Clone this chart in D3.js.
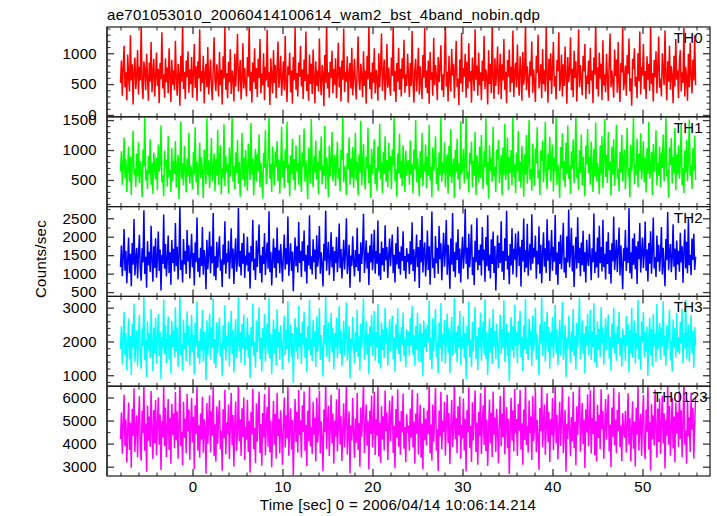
<!DOCTYPE html>
<html><head><meta charset="utf-8">
<script src="https://cdn.jsdelivr.net/npm/d3@7"></script>
<style>
body{margin:0;background:#fff}
svg{display:block}
text{font-family:"Liberation Sans",Arial,Helvetica,sans-serif;fill:#000}
</style>
</head><body><svg id="c" width="717" height="516"></svg>
<script>
const chartTitle = "ae701053010_20060414100614_wam2_bst_4band_nobin.qdp";
const xLabel = "Time [sec] 0 = 2006/04/14 10:06:14.214";
const yLabel = "Counts/sec";
const tStart = -8, tStep = 0.1;
const xTickLabels = [0, 10, 20, 30, 40, 50];
const xMinorStep = 2;
const xDomain = [-9.5, 57.5];
const panelNames = ["TH0", "TH1", "TH2", "TH3", "TH0123"];
const panelColors = ["#ff0000", "#00ff00", "#0000ff", "#00ffff", "#ff00ff"];
const yDomains = [[-30, 1425], [55, 1555], [383, 2816], [675, 3334], [2597, 6489]];
const yTickLabels = [[0, 500, 1000], [500, 1000, 1500], [500, 1000, 1500, 2000, 2500], [1000, 2000, 3000], [3000, 4000, 5000, 6000]];
const yMinorSteps = [100, 100, 250, 200, 500];

const th0 = [
520,880,310,760,1120,450,690,240,980,610,380,1290,560,820,170,700,930,420,640,1050,
330,780,560,1460,490,260,870,720,400,990,610,230,850,540,1180,370,680,910,300,620,
1010,470,750,190,840,580,1340,430,660,280,920,530,770,350,1080,640,210,890,490,720,
400,1200,580,310,830,670,150,960,540,1470,420,700,260,880,610,1030,360,740,500,940,
280,650,1150,440,790,230,870,590,1390,380,710,520,960,190,680,830,450,1100,330,610,
900,470,240,760,1260,550,390,820,640,300,1020,480,730,170,950,590,1440,410,680,270,
860,530,1070,340,720,610,220,990,460,800,1310,380,640,890,250,570,1160,430,760,510,
300,940,620,1500,390,700,200,850,530,1080,420,760,290,910,600,1230,350,670,480,1000,
240,780,560,1380,450,690,160,920,610,350,1050,520,810,270,730,1190,440,640,960,310,
580,870,400,1280,530,210,790,650,1010,370,720,180,940,560,1420,410,680,300,850,620,
1120,460,740,260,900,550,1350,390,660,230,980,500,830,340,1060,610,190,870,470,720,
380,1240,590,320,810,680,140,970,520,1480,430,690,280,860,600,1040,350,750,490,920,
270,640,1170,450,780,220,880,570,1400,370,700,540,950,200,670,840,430,1090,320,600,
910,480,250,770,1270,540,400,830,630,290,1030,470,720,180,960,580,1450,420,690,260,
850,520,1080,350,730,600,230,1000,450,790,1320,390,650,900,240,560,1150,440,770,500,
310,930,630,1490,380,710,210,840,540,1090,410,750,300,920,590,1220,360,660,470,990,
610,290,840,470,1360,560,200,730,910,380,650,1090,330,790,520,260,970,600,1410,440,
720,350,880,180,1020,570,690,310,1250,480,810,620,240,940,530,770,1130,400,660,290,
850,1480,460,700,220,960,580,380,1070,640,820,270,720,1200,450,590,160,900,510,1330,
370,760,620,990,280,860,430,1160,540,710,200,930,650,390,1390,570,800,310,1010,480,
690,240,880,550,1280,420,740,610,170,1050,500,830,350,1450,600,260,920,470,710,1110,
330,640,990,260,820,560,1230,410,700,190,890,620,1060,370,780,520,1370,290,680,850,
450,1140,580,310,950,720,230,1020,490,660,1500,400,790,570,280,870,630,1190,360,740,
540,210,960,680,1300,430,590,820,270,1070,500,730,380,1420,640,200,910,560,1000,340,
770,1180,460,630,250,890,710,1340,390,560,980,300,820,470,1110,620,180,940,530,690,
1260,400,750,290,1040,600,870,220,680,1390,450,810,580,320,960,710,1150,260,640,500,
880,340,1090,560,720,190,930,650,1470,420,770,300,1010,590,830,240,1210,480,660,370,
990,610,230,870,1320,450,720,540,280,1060,630,900,360,1180,510,210,840,690,1430,400,
560,800,310,970,670,1240,380,590,150,910,740,1080,460,620,270,1000,550,1350,330,780,
640,1150,420,710,260,950,570,830,390,1460,500,680,220,890,610,1030,350,760,1270,440,
590,300,1000,720,480,1370,620,240,870,540,1120,410,790,650,190,960,460,1230,570,720,
270,860,1050,380,690,520,1410,300,780,610,230,990,450,1170,640,350,900,560,1290,480];

const th1 = [
640,980,420,760,1210,530,850,300,710,1060,470,890,250,780,1320,590,690,380,940,560,
1130,450,820,620,210,1010,730,1560,490,670,350,900,600,1180,420,790,270,960,680,510,
870,330,1090,640,760,1410,460,580,230,990,710,840,390,1240,550,660,300,1030,480,810,
600,1150,370,720,920,180,650,1480,520,780,410,1070,690,290,860,560,1290,440,740,620,
340,970,590,1380,460,810,250,700,1120,530,880,620,200,1010,750,430,1530,580,830,360,
710,1200,480,650,940,310,850,570,1340,420,770,1080,260,690,540,1430,400,900,630,760,
280,1040,560,820,1590,470,730,350,960,610,1170,440,800,220,680,1290,510,870,390,1000,
650,320,1110,740,500,1450,590,860,240,720,1020,470,930,640,1260,380,790,560,190,950,
700,1330,430,610,880,1560,520,770,300,1060,660,410,980,720,1150,480,840,270,710,1390,
540,820,360,1010,690,1470,450,760,230,910,600,1190,500,850,330,1080,640,780,420,1250,
610,300,960,720,1360,470,830,580,180,1040,690,440,1520,750,380,900,620,1160,510,800,
260,990,660,1230,430,740,570,1400,350,880,700,210,1070,560,820,1300,480,630,920,400,
770,1140,520,690,310,1000,840,1580,460,730,600,250,950,680,1210,420,860,540,1050,370,
720,1290,490,810,240,930,620,1490,410,770,1100,560,340,890,690,1370,450,760,200,1020,
590,850,1180,430,700,320,1060,640,1440,510,790,280,970,600,1230,470,830,380,1120,660,
900,350,1010,740,1550,480,680,220,940,610,1270,530,820,400,1080,710,300,990,570,760,
830,420,1160,590,760,280,1010,680,1500,460,870,620,230,980,540,1290,400,760,640,1090,
360,890,570,1420,490,720,210,1040,650,810,1230,430,700,320,960,580,1560,470,800,610,
1130,380,740,930,270,1070,560,1350,450,690,860,200,1000,630,1190,510,780,340,1480,590,
700,1020,440,860,1610,520,640,290,950,760,1140,380,820,570,1300,250,910,680,460,1060,
530,1250,610,350,980,720,1530,420,800,190,1080,650,870,470,1390,560,720,300,1010,840,
1170,450,690,920,240,1040,580,1440,500,730,1210,330,880,620,1000,410,1580,550,760,280,
960,640,1320,480,810,370,1070,700,220,930,590,1250,440,790,1500,510,680,320,1110,620,
400,1030,770,1380,530,660,250,990,820,1160,460,730,1470,590,350,940,670,1220,480,850,
1090,310,870,640,1540,420,760,560,200,1050,700,1280,490,820,380,1120,600,1410,520,740,
270,980,690,1180,450,860,1590,530,710,330,1000,620,1260,410,890,580,230,1070,760,1350,
610,880,420,1140,720,300,1020,560,1460,480,790,650,260,1080,590,1230,370,840,1520,550,
920,450,1300,660,810,240,1060,590,1180,400,750,1420,520,690,310,970,630,1250,470,860,
1010,340,780,1370,560,700,210,1090,640,880,1550,430,760,590,1190,380,940,660,1280,510,
720,1150,460,870,290,1030,600,1470,520,680,970,250,1100,630,840,1330,410,780,570,1060,
380,960,700,1260,480,820,1580,560,670,200,1040,750,1200,440,890,610,1370,330,930,590,
1080,520,790,1450,410,700,280,990,620,1170,480,860,1510,570,740,350,1030,660,1240,500];

const th2 = [
1180,1760,930,1450,2210,1080,1620,740,1350,1980,1010,1540,660,1830,1240,2480,950,1400,1700,870,
1520,2050,1120,810,1690,1300,2720,990,1460,620,1880,1230,1590,1040,2300,1370,780,1740,1150,1960,
890,1420,2140,1070,1650,540,1510,1260,2600,1130,1800,920,1390,2030,1020,1580,700,1910,1290,1670,
1060,2370,1200,1730,840,1480,2850,1100,1360,760,1940,1250,1610,990,2180,1330,1770,870,1440,2080,
1170,1560,680,1850,1310,2520,1050,1430,900,1700,1210,2260,970,1640,1390,580,1920,1120,1530,2140,
1010,1740,1280,2640,930,1470,820,1860,1160,1600,2010,1080,1380,640,1790,1240,2420,1000,1550,1310,
1890,860,1450,2230,1140,1680,720,1520,1960,1050,1340,2780,1190,1620,950,1830,1270,2090,880,1490,
1230,2000,1060,1570,600,1750,1320,2460,1090,1410,830,1900,1180,1660,2330,1020,1500,760,1720,1260,
2100,960,1480,1840,1130,2690,1040,1590,680,1370,1950,1150,1710,890,2250,1280,1630,1010,1800,1330,
780,1550,2060,1110,1690,1250,2550,940,1430,1820,1070,1600,520,1360,1980,1200,1740,1030,2400,1290,
1620,910,1880,1340,2170,1060,1510,730,1770,1220,2580,1120,1470,980,1930,1310,1650,850,2040,1190,
1460,2290,1000,1580,1240,650,1810,1350,2700,1080,1520,1860,960,1400,2120,1170,1730,800,1610,1280,
1990,1040,1440,2360,1150,1670,870,1390,1920,1110,1560,2500,990,1300,1780,620,1490,1210,2010,1350,
920,1640,1180,2240,1070,1530,770,1850,1260,1700,2620,1020,1420,1900,1140,1570,690,1760,1300,2080,
1090,1480,2190,1000,1610,1270,2440,940,1550,830,1870,1230,1690,1050,2310,1360,1720,880,1460,1950,
1200,1640,2060,1010,1510,760,1820,1250,2270,1130,1590,970,1740,1340,2150,1080,1480,860,1690,1310,
1540,990,1880,1250,2390,1070,1660,790,1470,2060,1180,1720,610,1910,1300,2560,1030,1600,1840,920,
1350,2170,1100,1740,700,1560,2680,1150,1420,880,2020,1280,1700,1000,2290,1390,1820,820,1510,2110,
1190,1630,2450,970,1780,1320,590,1950,1240,2640,1060,1590,900,1850,1370,2200,1010,1680,760,1480,
2000,1130,1560,2760,1270,1710,850,2080,1170,1600,2330,960,1450,690,1890,1310,2510,1090,1640,1230,
1790,950,2260,1360,1650,780,1990,1200,2580,1080,1520,870,1930,1260,2140,1020,1750,540,1400,2040,
1150,1830,1290,2420,1050,1610,830,1960,1340,2700,1110,1490,710,1800,1220,2230,980,1670,1380,2090,
900,1580,2150,1210,1730,650,1920,1330,2490,1040,1640,1160,2350,940,1510,1810,1090,2610,1270,1700,
1440,2030,860,1620,1250,2280,1000,1780,740,1550,2120,1190,1690,1020,2470,1350,1900,800,1530,2180,
1080,1730,1320,2590,970,1570,700,1860,1260,2050,1120,1650,2380,1030,1430,880,2010,1300,2740,1170,
1600,2240,1060,1760,640,1480,1990,1140,2530,1290,1700,930,1840,1230,2160,1050,1580,760,1920,1380,
1210,2070,1440,820,1690,1310,2630,1020,1590,1170,1980,890,2300,1280,1720,1060,2460,1180,1540,840,
1870,1260,2120,990,1640,730,1820,1330,2550,1100,1480,1920,1040,1620,2250,950,1760,1220,580,1690,
1340,2180,1070,1710,1290,2780,1010,1580,860,1960,1240,2090,1120,1740,720,1880,1390,2370,1030,1560,
1980,1150,1530,2410,1080,1660,790,1830,1270,2150,1000,1610,2520,1140,1450,910,2030,1320,1780,1060,
1490,2260,980,1700,1210,660,1940,1360,2670,1090,1570,1800,1040,1420,2340,1190,1680,830,1900,1250,
1620,1050,2110,1300,1740,750,1590,2200,1140,1860,1010,2490,1230,1510,960,1950,1370,2080,1100,1460];

const th3 = [
1780,2450,1320,2090,2870,1600,2250,1150,1940,2680,1480,2170,1010,2520,1830,3120,1390,2040,2330,1260,
2150,2790,1560,1190,2380,1870,3350,1440,2060,950,2600,1730,2240,1500,2960,1950,1120,2410,1650,2700,
1340,2010,2820,1570,2280,880,2130,1790,3240,1620,2490,1360,1980,2740,1470,2200,1060,2610,1830,2320,
1540,3010,1720,2410,1250,2090,3400,1590,1920,1130,2650,1780,2250,1420,2890,1900,2460,1290,2030,2780,
1680,2190,1030,2560,1850,3180,1510,2020,1330,2380,1740,2930,1400,2290,1960,860,2630,1610,2140,2820,
1460,2420,1810,3280,1350,2070,1210,2570,1660,2240,2710,1550,1950,970,2480,1770,3070,1440,2170,1870,
2590,1260,2050,2910,1630,2340,1080,2130,2660,1510,1890,3330,1700,2270,1370,2520,1800,2800,1290,2100,
1750,2700,1520,2200,920,2430,1860,3120,1560,1990,1220,2620,1690,2310,3010,1470,2120,1110,2390,1790,
2810,1400,2080,2540,1620,3300,1490,2230,1030,1940,2650,1640,2370,1300,2950,1820,2280,1450,2480,1880,
1160,2170,2760,1590,2350,1780,3190,1380,2010,2500,1530,2250,780,1930,2690,1710,2420,1480,3060,1840,
2260,1330,2580,1900,2880,1520,2120,1090,2450,1740,3240,1600,2060,1420,2640,1860,2300,1250,2740,1700,
2040,2980,1450,2190,1770,960,2490,1910,3360,1550,2140,2570,1390,1990,2850,1680,2400,1170,2250,1820,
2700,1500,2030,3050,1640,2330,1270,1970,2610,1580,2190,3150,1430,1850,2460,900,2090,1730,2730,1920,
1350,2290,1690,2940,1540,2150,1140,2530,1800,2380,3280,1460,2000,2600,1610,2230,1020,2440,1860,2790,
1570,2080,2900,1430,2270,1820,3110,1360,2180,1200,2570,1750,2350,1510,3000,1930,2410,1280,2060,2660,
1720,2320,2770,1470,2120,1100,2510,1790,2980,1620,2220,1410,2430,1900,2860,1560,2090,1240,2360,1880,
2300,1560,2700,1880,3050,1610,2180,1290,2450,1760,2850,1420,2080,2540,1380,2260,970,2620,1840,2380,
1690,2510,1970,3210,1460,2120,1180,2690,1720,2300,2960,1520,1960,1060,2560,1800,3140,1410,2220,1910,
2640,1340,2090,2830,1670,2390,1050,2170,2730,1580,1930,3290,1650,2290,1390,2470,1820,2900,1310,2140,
1790,2740,1500,2250,880,2460,1890,3180,1540,2050,1240,2580,1710,2340,3020,1490,2160,1150,2410,1830,
2860,1430,2100,2590,1610,3260,1480,2270,1010,1960,2680,1670,2400,1330,2970,1850,2310,1470,2520,1900,
1200,2200,2790,1620,2370,1810,3220,1400,2040,2530,1560,2280,820,1950,2720,1740,2450,1510,3090,1860,
2280,1360,2610,1920,2910,1540,2140,1120,2470,1770,3270,1630,2090,1450,2670,1880,2330,1270,2770,1730,
2070,3000,1470,2210,1790,1000,2510,1930,3310,1570,2160,2600,1410,2020,2880,1700,2430,1190,2270,1850,
2730,1520,2060,3080,1660,2350,1300,2000,2640,1600,2210,3170,1450,1880,2490,940,2110,1750,2760,1940,
1370,2310,1710,2960,1560,2170,1160,2550,1820,2400,3300,1480,2030,2630,1640,2250,1050,2460,1880,2810,
1590,2100,2930,1450,2290,1840,3130,1380,2200,1230,2600,1770,2370,1530,3020,1950,2430,1310,2080,2690,
1740,2340,2800,1490,2140,1130,2530,1810,3000,1640,2240,1430,2450,1920,2880,1580,2110,1260,2380,1900,
2190,1420,2750,1870,2510,1080,2330,1660,2990,1510,2060,2620,1350,2260,1790,3230,1470,2150,1160,2580,
1980,2870,1530,2280,1700,2440,980,2120,2700,1590,2360,1250,2810,1860,2230,1390,3110,1760,2050,2550,
1460,2410,1850,3190,1560,2180,1280,2490,1780,2290,2940,1440,2020,1100,2650,1830,2390,1520,2840,1690,
2120,1620,2580,1940,2960,1350,2260,1800,3240,1490,2070,2500,1400,1990,2780,1660,2320,1210,2430,1880];

const th0123 = [
4200,5350,3560,4780,6120,3900,5040,3180,4560,5780,3720,4900,2950,5510,4330,6400,3640,4690,5230,3410,
5000,6050,3810,3260,5420,4450,6600,3690,4870,2780,5650,4130,5170,3860,6280,4600,3340,5460,4010,5890,
3500,4740,6010,3950,5260,2860,4980,4270,6520,3890,5570,3420,4660,5930,3730,5120,3130,5720,4380,5300,
3800,6240,4150,5390,3350,4820,6700,3900,4510,3070,5820,4250,5080,3580,6150,4540,5480,3300,4760,5990,
4050,5160,2900,5660,4420,6450,3700,4800,3390,5310,4180,6030,3610,5050,4630,2700,5760,3980,4950,6100,
3620,5400,4340,6560,3460,4840,3220,5610,4000,5100,5880,3770,4570,2820,5490,4230,6330,3540,4910,4410,
5700,3330,4810,6200,3930,5240,3010,4880,5820,3690,4490,6650,4100,5060,3470,5530,4290,6000,3280,4720,
4170,5900,3640,4990,2750,5370,4400,6380,3760,4690,3150,5750,4080,5170,6260,3590,4850,3040,5330,4260,
6150,3500,4780,5600,3880,6550,3620,5000,2980,4560,5850,3950,5280,3360,6200,4330,5080,3580,5450,4450,
3090,4930,6000,3830,5230,4220,6480,3480,4700,5530,3740,5020,2640,4520,5930,4070,5380,3610,6320,4380,
5010,3400,5660,4500,6260,3690,4820,3030,5420,4100,6580,3880,4710,3550,5810,4390,5120,3230,5990,4050,
4650,6300,3570,4970,4200,2800,5480,4490,6620,3780,4880,5640,3460,4610,6120,4010,5310,3140,5000,4300,
5920,3660,4670,6400,3960,5190,3250,4600,5750,3840,4950,6510,3530,4420,5400,2720,4800,4140,5980,4520,
3390,5090,4040,6190,3740,4890,3000,5560,4300,5270,6600,3590,4640,5700,3910,4990,2880,5420,4420,6080,
3830,4730,6250,3510,5060,4350,6450,3440,4910,3170,5620,4180,5190,3700,6300,4550,5350,3290,4640,5870,
4110,5150,6080,3600,4770,2930,5500,4240,6360,3870,4980,3520,5410,4480,6170,3780,4720,3190,5270,4460,
4780,3690,5520,4260,6350,3840,4960,3140,5310,4430,6180,3530,4720,5680,3390,4870,2880,5550,4150,5080,
3920,5430,4410,6560,3570,4830,3260,5700,4080,5170,6420,3690,4620,2810,5440,4310,6250,3760,4990,4500,
5810,3480,4900,6120,4030,5330,3110,4760,5900,3860,4580,6700,4190,5110,3580,5620,4360,6040,3350,4800,
4220,5960,3700,5080,2790,5450,4480,6440,3820,4770,3200,5790,4140,5230,6300,3640,4910,3080,5380,4320,
6190,3550,4840,5660,3940,6590,3680,5050,3030,4620,5910,4010,5340,3420,6260,4390,5140,3640,5510,4500,
3150,4990,6060,3890,5290,4280,6520,3540,4760,5590,3800,5080,2680,4580,5990,4130,5440,3670,6380,4440,
5070,3460,5720,4560,6320,3750,4880,3090,5480,4160,6640,3940,4770,3610,5870,4450,5180,3290,6050,4110,
4710,6360,3630,5030,4260,2860,5540,4550,6680,3840,4940,5700,3520,4670,6180,4070,5370,3200,5060,4360,
5980,3720,4730,6460,4020,5250,3310,4660,5810,3900,5010,6570,3590,4480,5460,2780,4860,4200,6040,4580,
3450,5150,4100,6250,3800,4950,3060,5620,4360,5330,6660,3650,4700,5760,3970,5050,2940,5480,4480,6140,
3890,4790,6310,3570,5120,4410,6510,3500,4970,3230,5680,4240,5250,3760,6360,4610,5410,3350,4700,5930,
4170,5210,6140,3660,4830,2990,5560,4300,6420,3930,5040,3580,5470,4540,6230,3840,4780,3250,5330,4520,
4260,5410,3620,4840,6180,3960,5100,3240,4620,5840,3780,4960,3010,5570,4390,6460,3700,4750,5290,3470,
5060,6110,3870,3320,5480,4510,6660,3750,4930,2840,5710,4190,5230,3920,6340,4660,3400,5520,4070,5950,
3560,4800,6070,4010,5320,2920,5040,4330,6580,3950,5630,3480,4720,5990,3790,5180,3190,5780,4440,5360,
3860,6300,4210,5450,3410,4880,6760,3960,4570,3130,5880,4310,5140,3640,6210,4600,5540,3360,4820,6050];

const seriesList = [th0, th1, th2, th3, th0123];

// ---- layout ----
const L = 107, R = 710, T = 27, B = 476;
const nP = seriesList.length;
const pH = (B - T) / nP;
const FS = 15, LS = 0.3;
const tickCol = "#3a3a3a";

const svg = d3.select("#c");
const x = d3.scaleLinear().domain(xDomain).range([L, R]);
const xMinor = d3.range(-8, 58, xMinorStep).filter(v => !xTickLabels.includes(v));

function styleAxis(g, sw) {
  g.select(".domain").remove();
  g.selectAll(".tick line").attr("stroke", tickCol).attr("stroke-width", sw);
  g.selectAll(".tick text").attr("font-size", FS).attr("letter-spacing", LS)
    .attr("font-family", '"Liberation Sans",Arial,sans-serif').attr("fill", "#000");
}

seriesList.forEach((data, i) => {
  const top = T + i * pH, bot = top + pH;
  const y = d3.scaleLinear().domain(yDomains[i]).range([bot, top]);
  const clipId = "clip" + i;
  svg.append("clipPath").attr("id", clipId).append("rect")
    .attr("x", L).attr("y", top).attr("width", R - L).attr("height", pH);

  const line = d3.line().x((d, j) => x(tStart + j * tStep)).y(d => y(d));
  svg.append("path").datum(data)
    .attr("clip-path", `url(#${clipId})`)
    .attr("fill", "none").attr("stroke", panelColors[i])
    .attr("stroke-width", 1.5).attr("stroke-linejoin", "bevel")
    .attr("d", line);

  const [d0, d1] = yDomains[i];
  const st = yMinorSteps[i];
  const minor = d3.range(Math.ceil(d0 / st) * st, d1, st).filter(v => !yTickLabels[i].includes(v));

  svg.append("g").attr("transform", `translate(${L},0)`)
    .call(d3.axisLeft(y).tickValues(yTickLabels[i]).tickSize(-7).tickPadding(10).tickFormat(d3.format("d")))
    .call(g => styleAxis(g, 1.3));
  svg.append("g").attr("transform", `translate(${L},0)`)
    .call(d3.axisLeft(y).tickValues(minor).tickSize(-3.5).tickFormat(""))
    .call(g => styleAxis(g, 1.1));
  svg.append("g").attr("transform", `translate(${R},0)`)
    .call(d3.axisRight(y).tickValues(yTickLabels[i]).tickSize(-7).tickFormat(""))
    .call(g => styleAxis(g, 1.3));
  svg.append("g").attr("transform", `translate(${R},0)`)
    .call(d3.axisRight(y).tickValues(minor).tickSize(-3.5).tickFormat(""))
    .call(g => styleAxis(g, 1.1));
  svg.append("g").attr("transform", `translate(0,${top})`)
    .call(d3.axisTop(x).tickValues(xTickLabels).tickSize(-7).tickFormat(""))
    .call(g => styleAxis(g, 1.3));
  svg.append("g").attr("transform", `translate(0,${top})`)
    .call(d3.axisTop(x).tickValues(xMinor).tickSize(-3.5).tickFormat(""))
    .call(g => styleAxis(g, 1.1));
  const isLast = i === nP - 1;
  svg.append("g").attr("transform", `translate(0,${bot})`)
    .call(d3.axisBottom(x).tickValues(xTickLabels).tickSize(-7).tickPadding(5)
      .tickFormat(isLast ? d3.format("d") : ""))
    .call(g => styleAxis(g, 1.3));
  svg.append("g").attr("transform", `translate(0,${bot})`)
    .call(d3.axisBottom(x).tickValues(xMinor).tickSize(-3.5).tickFormat(""))
    .call(g => styleAxis(g, 1.1));

  svg.append("rect").attr("x", L).attr("y", top).attr("width", R - L).attr("height", pH)
    .attr("fill", "none").attr("stroke", "#1a1a1a").attr("stroke-width", 1.2);

  svg.append("text").attr("x", isLast ? 708 : 703).attr("y", top + 16)
    .attr("text-anchor", "end").attr("font-size", FS).attr("letter-spacing", LS).text(panelNames[i]);
});

svg.append("line").attr("x1", L).attr("x2", L).attr("y1", T).attr("y2", B)
  .attr("stroke", "#333").attr("stroke-width", 1.6);

svg.append("text").attr("x", L).attr("y", 20).attr("font-size", FS).attr("letter-spacing", LS).text(chartTitle);
svg.append("text").attr("x", 398).attr("y", 510).attr("text-anchor", "middle")
  .attr("font-size", FS).attr("letter-spacing", LS).text(xLabel);
svg.append("text").attr("transform", `translate(46,259) rotate(-90)`).attr("text-anchor", "middle")
  .attr("font-size", FS).attr("letter-spacing", LS).text(yLabel);
</script>
</body></html>
